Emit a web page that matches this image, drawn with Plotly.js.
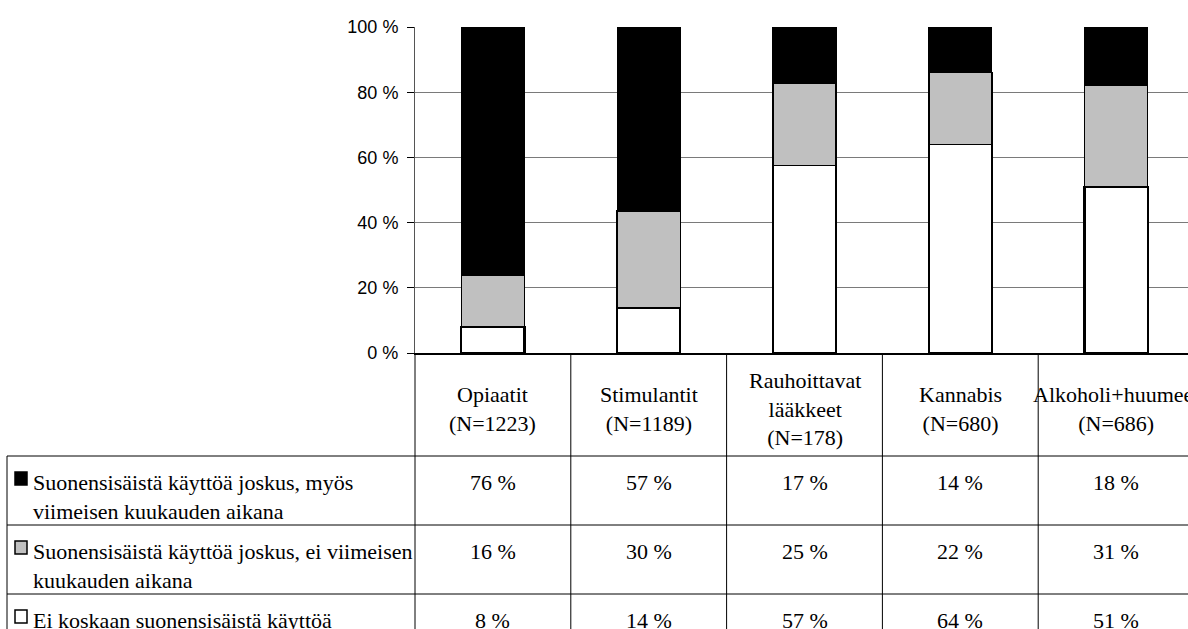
<!DOCTYPE html>
<html>
<head>
<meta charset="utf-8">
<script src="https://cdn.plot.ly/plotly-3.0.1.min.js"></script>
<style>
html, body { margin: 0; padding: 0; background: #fff; overflow: hidden; }
#chart { width: 1200px; height: 629px; }
</style>
</head>
<body>
<div id="chart"></div>
<script>
// ---- Data ----
const categoryLabels = ['Opiaatit', 'Stimulantit', 'Rauhoittavat<br>lääkkeet', 'Kannabis', 'Alkoholi+huumeet'];
const sampleSizes = [1223, 1189, 178, 680, 686];
const seriesNames = [
  'Suonensisäistä käyttöä joskus, myös<br>viimeisen kuukauden aikana',
  'Suonensisäistä käyttöä joskus, ei viimeisen<br>kuukauden aikana',
  'Ei koskaan suonensisäistä käyttöä'
];
const recentIV = [76, 57, 17, 14, 18];
const pastIV = [16, 30, 25, 22, 31];
const neverIV = [8, 14, 57, 64, 51];
const yTickValues = [0, 20, 40, 60, 80, 100];
const yTickLabels = ['0 %', '20 %', '40 %', '60 %', '80 %', '100 %'];

// ---- Layout geometry (pixels) ----
const W = 1200, H = 629;
const L = 415, R = 1194, T = 27, B = 353;
const PW = R - L, PH = B - T;
const px = X => (X - L) / PW;
const py = Y => (B - Y) / PH;
const tableLeft = 7;
const headerBottom = 456;
const rowTops = [456, 525, 594];
const tableBottom = 680;

const serif = 'Liberation Serif, Times New Roman, serif';
const sans = 'Liberation Sans, Arial, sans-serif';

const colors = ['#000000', '#c0c0c0', '#ffffff'];
const seriesValues = [recentIV, pastIV, neverIV];
const n = categoryLabels.length;
const xCats = categoryLabels.map((c, i) => 'c' + i);

// stacked bottom-to-top: never, past, recent
const traces = [2, 1, 0].map(k => ({
  type: 'bar',
  x: xCats,
  y: seriesValues[k],
  width: 0.405,
  name: seriesNames[k],
  marker: { color: colors[k], line: { color: '#000', width: k === 2 ? 2.2 : (k === 1 ? 1.5 : 1) } },
  showlegend: false,
  hoverinfo: 'skip'
}));

const shapes = [];
const annotations = [];
const line = (x0, y0, x1, y1, w) => shapes.push({
  type: 'line', xref: 'paper', yref: 'paper', x0: px(x0), y0: py(y0), x1: px(x1), y1: py(y1),
  line: { color: '#000', width: w || 1 }
});

// table horizontal lines
rowTops.forEach(y => line(tableLeft, y, R + 10, y));
// left border of label column
line(tableLeft, headerBottom, tableLeft, tableBottom);
// axis continuation down through table
line(L, B, L, tableBottom);
// column separators
for (let i = 1; i <= n; i++) {
  const X = L + PW * i / n;
  line(X, B, X, tableBottom);
}

// header cells
categoryLabels.forEach((c, i) => {
  annotations.push({
    xref: 'paper', yref: 'paper', x: (i + 0.5) / n, y: py(409),
    xanchor: 'center', yanchor: 'middle', showarrow: false, align: 'center',
    text: c + '<br>(N=' + sampleSizes[i] + ')',
    font: { family: serif, size: 22, color: '#000' }
  });
});

// rows: key, label, values
seriesNames.forEach((s, k) => {
  const top = rowTops[k];
  shapes.push({
    type: 'rect', xref: 'paper', yref: 'paper',
    x0: px(15), x1: px(27), y0: py(top + 16), y1: py(top + 29),
    fillcolor: colors[k], line: { color: '#000', width: 1.5 }
  });
  annotations.push({
    xref: 'paper', yref: 'paper', x: px(31), y: py(top + 12),
    xanchor: 'left', yanchor: 'top', showarrow: false, align: 'left',
    text: s, font: { family: serif, size: 22, color: '#000' }
  });
  seriesValues[k].forEach((v, i) => {
    annotations.push({
      xref: 'paper', yref: 'paper', x: (i + 0.5) / n, y: py(top + 12),
      xanchor: 'center', yanchor: 'top', showarrow: false,
      text: v + ' %', font: { family: serif, size: 22, color: '#000' }
    });
  });
});

const layout = {
  width: W, height: H,
  margin: { l: L, r: W - R, t: T, b: H - B, pad: 0 },
  paper_bgcolor: '#fff', plot_bgcolor: '#fff',
  barmode: 'stack', barnorm: 'percent',
  showlegend: false,
  xaxis: {
    type: 'category', range: [-0.5, n - 0.5], showticklabels: false, ticks: '',
    showgrid: false, zeroline: false, showline: true, linecolor: '#000', linewidth: 1.5, fixedrange: true
  },
  yaxis: {
    range: [0, 100], tickmode: 'array', tickvals: yTickValues, ticktext: yTickLabels,
    ticks: 'outside', ticklen: 7, tickcolor: '#000', tickwidth: 1, ticklabelstandoff: 5,
    showgrid: true, gridcolor: '#7a7a7a', gridwidth: 1,
    zeroline: false, showline: true, linecolor: '#555', linewidth: 1,
    tickfont: { family: sans, size: 18, color: '#000' }, fixedrange: true
  },
  shapes: shapes,
  annotations: annotations
};

Plotly.newPlot('chart', traces, layout, { staticPlot: true, displayModeBar: false });
</script>
</body>
</html>
